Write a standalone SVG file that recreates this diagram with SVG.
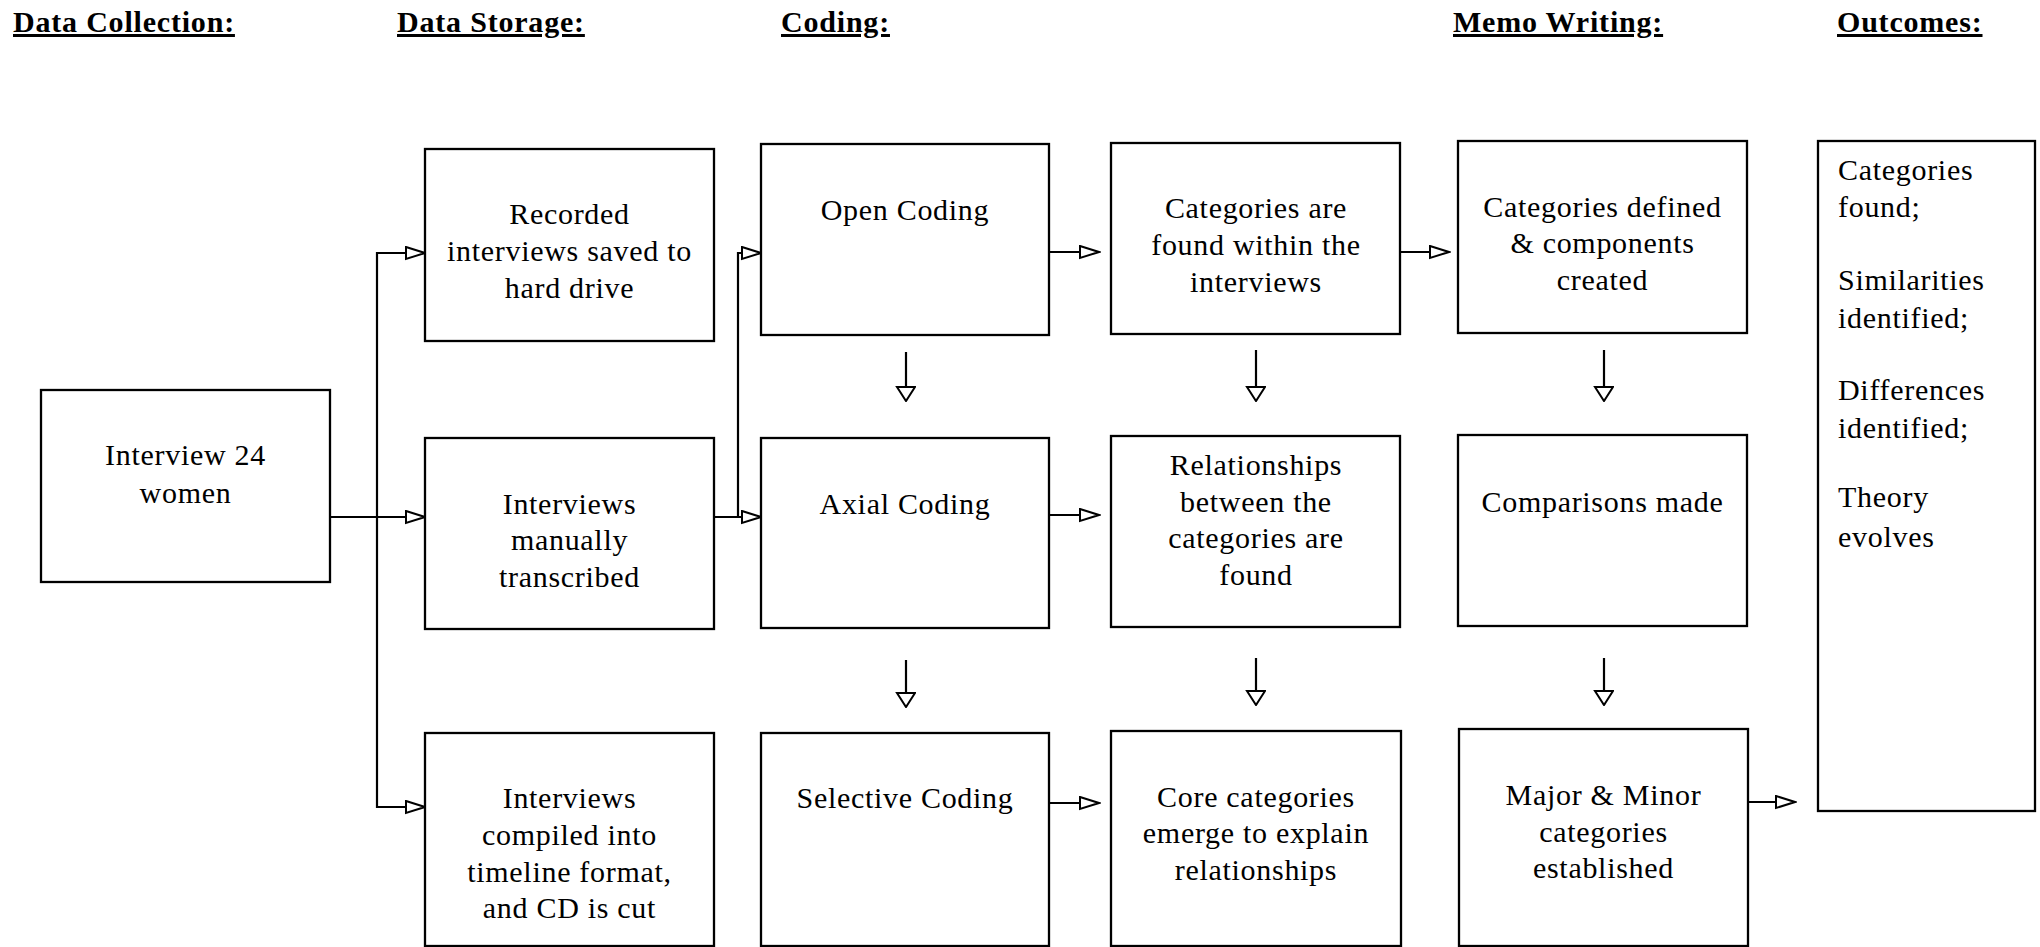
<svg xmlns="http://www.w3.org/2000/svg" width="2040" height="947" viewBox="0 0 2040 947">
<style>
.bg{fill:#ffffff}
.box{fill:#ffffff;stroke:#000;stroke-width:2.3}
.t{font-family:"Liberation Serif","Times New Roman",serif;font-size:30px;letter-spacing:0.7px;fill:#000}
.c{text-anchor:middle}
.h{font-family:"Liberation Serif","Times New Roman",serif;font-size:30px;font-weight:bold;letter-spacing:0.8px;text-decoration:underline;fill:#000}
.ln{fill:none;stroke:#000;stroke-width:2.2}
</style>
<defs>
<marker id="ah" markerUnits="userSpaceOnUse" markerWidth="22" markerHeight="16" refX="20" refY="7" orient="auto">
<path d="M1,1 L20,7 L1,13 Z" fill="#fff" stroke="#000" stroke-width="2"/>
</marker>
<marker id="av" markerUnits="userSpaceOnUse" markerWidth="16" markerHeight="22" refX="15" refY="10" orient="auto">
<path d="M1,1 L15,10 L1,19 Z" fill="#fff" stroke="#000" stroke-width="2"/>
</marker>
</defs>
<rect class="bg" x="0" y="0" width="2040" height="947"/>
<g id="headers">
<text class="h" x="13" y="32">Data Collection:</text>
<text class="h" x="397" y="32">Data Storage:</text>
<text class="h" x="781" y="32">Coding:</text>
<text class="h" x="1453" y="32">Memo Writing:</text>
<text class="h" x="1837" y="32">Outcomes:</text>
</g>
<g id="connectors">
<path class="ln" d="M330,517 H425" marker-end="url(#ah)"/>
<path class="ln" d="M377,517 V253 H425" marker-end="url(#ah)"/>
<path class="ln" d="M377,517 V807 H425" marker-end="url(#ah)"/>
<path class="ln" d="M714,517 H761" marker-end="url(#ah)"/>
<path class="ln" d="M738,517 V253 H761" marker-end="url(#ah)"/>
<path class="ln" d="M1049,252 H1099" marker-end="url(#ah)"/>
<path class="ln" d="M1400,252 H1449" marker-end="url(#ah)"/>
<path class="ln" d="M1049,515 H1099" marker-end="url(#ah)"/>
<path class="ln" d="M1049,803 H1099" marker-end="url(#ah)"/>
<path class="ln" d="M1748,802 H1795" marker-end="url(#ah)"/>
<path class="ln" d="M906,352 V401" marker-end="url(#av)"/>
<path class="ln" d="M1256,350 V401" marker-end="url(#av)"/>
<path class="ln" d="M1604,350 V401" marker-end="url(#av)"/>
<path class="ln" d="M906,660 V707" marker-end="url(#av)"/>
<path class="ln" d="M1256,658 V705" marker-end="url(#av)"/>
<path class="ln" d="M1604,658 V705" marker-end="url(#av)"/>
</g>
<g id="interview">
<rect class="box" x="41" y="390" width="289" height="192"/>
<text class="t c" x="185.5" y="465">Interview 24</text>
<text class="t c" x="185.5" y="503">women</text>
</g>
<g id="recorded">
<rect class="box" x="425" y="149" width="289" height="192"/>
<text class="t c" x="569.5" y="224">Recorded</text>
<text class="t c" x="569.5" y="261">interviews saved to</text>
<text class="t c" x="569.5" y="298">hard drive</text>
</g>
<g id="transcribed">
<rect class="box" x="425" y="438" width="289" height="191"/>
<text class="t c" x="569.5" y="514">Interviews</text>
<text class="t c" x="569.5" y="550">manually</text>
<text class="t c" x="569.5" y="587">transcribed</text>
</g>
<g id="compiled">
<rect class="box" x="425" y="733" width="289" height="213"/>
<text class="t c" x="569.5" y="808">Interviews</text>
<text class="t c" x="569.5" y="845">compiled into</text>
<text class="t c" x="569.5" y="882">timeline format,</text>
<text class="t c" x="569.5" y="918">and CD is cut</text>
</g>
<g id="open">
<rect class="box" x="761" y="144" width="288" height="191"/>
<text class="t c" x="905" y="220">Open Coding</text>
</g>
<g id="axial">
<rect class="box" x="761" y="438" width="288" height="190"/>
<text class="t c" x="905" y="514">Axial Coding</text>
</g>
<g id="selective">
<rect class="box" x="761" y="733" width="288" height="213"/>
<text class="t c" x="905" y="808">Selective Coding</text>
</g>
<g id="catfound">
<rect class="box" x="1111" y="143" width="289" height="191"/>
<text class="t c" x="1256" y="218">Categories are</text>
<text class="t c" x="1256" y="255">found within the</text>
<text class="t c" x="1256" y="292">interviews</text>
</g>
<g id="relationships">
<rect class="box" x="1111" y="436" width="289" height="191"/>
<text class="t c" x="1256" y="475">Relationships</text>
<text class="t c" x="1256" y="512">between the</text>
<text class="t c" x="1256" y="548">categories are</text>
<text class="t c" x="1256" y="585">found</text>
</g>
<g id="core">
<rect class="box" x="1111" y="731" width="290" height="215"/>
<text class="t c" x="1256" y="807">Core categories</text>
<text class="t c" x="1256" y="843">emerge to explain</text>
<text class="t c" x="1256" y="880">relationships</text>
</g>
<g id="catdefined">
<rect class="box" x="1458" y="141" width="289" height="192"/>
<text class="t c" x="1602.5" y="217">Categories defined</text>
<text class="t c" x="1602.5" y="253">&amp; components</text>
<text class="t c" x="1602.5" y="290">created</text>
</g>
<g id="comparisons">
<rect class="box" x="1458" y="435" width="289" height="191"/>
<text class="t c" x="1602.5" y="512">Comparisons made</text>
</g>
<g id="majorminor">
<rect class="box" x="1459" y="729" width="289" height="217"/>
<text class="t c" x="1603.5" y="805">Major &amp; Minor</text>
<text class="t c" x="1603.5" y="842">categories</text>
<text class="t c" x="1603.5" y="878">established</text>
</g>
<g id="outcomes">
<rect class="box" x="1818" y="141" width="217" height="670"/>
<text class="t" x="1838" y="180">Categories</text>
<text class="t" x="1838" y="217">found;</text>
<text class="t" x="1838" y="290">Similarities</text>
<text class="t" x="1838" y="328">identified;</text>
<text class="t" x="1838" y="400">Differences</text>
<text class="t" x="1838" y="438">identified;</text>
<text class="t" x="1838" y="507">Theory</text>
<text class="t" x="1838" y="547">evolves</text>
</g>
</svg>
